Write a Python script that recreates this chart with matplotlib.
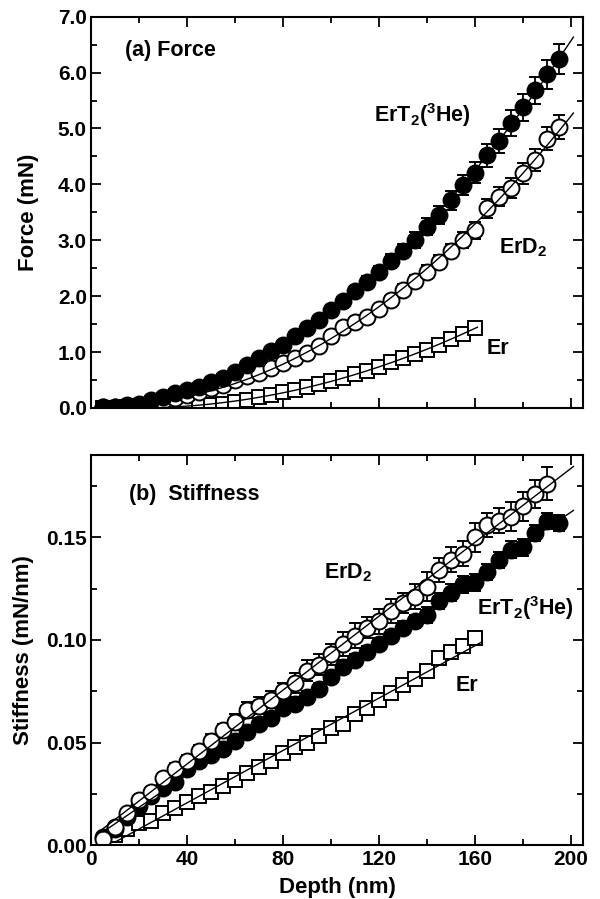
import numpy as np
import matplotlib
matplotlib.use('Agg')
import matplotlib.pyplot as plt
from matplotlib.ticker import MultipleLocator, FormatStrFormatter

plt.rcParams['font.family'] = ['Liberation Sans', 'DejaVu Sans']
plt.rcParams['font.weight'] = 'bold'
plt.rcParams['mathtext.fontset'] = 'custom'
plt.rcParams['mathtext.rm'] = 'Liberation Sans:bold'
plt.rcParams['mathtext.bf'] = 'Liberation Sans:bold'
plt.rcParams['mathtext.it'] = 'Liberation Sans:bold'
plt.rcParams['mathtext.default'] = 'regular'

# depth grids (nm)
depth_195 = [5, 10, 15, 20, 25, 30, 35, 40, 45, 50, 55, 60, 65, 70, 75, 80, 85, 90, 95, 100,
             105, 110, 115, 120, 125, 130, 135, 140, 145, 150, 155, 160, 165, 170, 175, 180,
             185, 190, 195]
depth_190 = depth_195[:-1]
depth_160 = depth_195[:32]
depth_160b = depth_195[1:32]

# (a) force (mN)
force_ert2 = [0.01, 0.02, 0.05, 0.08, 0.14, 0.20, 0.26, 0.32, 0.38, 0.46, 0.53, 0.65, 0.77,
              0.89, 1.02, 1.13, 1.28, 1.43, 1.57, 1.75, 1.92, 2.09, 2.26, 2.43, 2.63, 2.81,
              3.01, 3.24, 3.46, 3.72, 3.99, 4.21, 4.52, 4.78, 5.10, 5.38, 5.68, 5.97, 6.24]
force_ert2_err = [0, 0, 0, 0, 0.01, 0.01, 0.01, 0.01, 0.02, 0.02, 0.02, 0.03, 0.03, 0.04,
                  0.05, 0.05, 0.06, 0.06, 0.07, 0.08, 0.09, 0.09, 0.10, 0.11, 0.12, 0.13,
                  0.14, 0.15, 0.16, 0.17, 0.18, 0.19, 0.20, 0.21, 0.23, 0.24, 0.25, 0.26, 0.27]
force_erd2 = [0.01, 0.02, 0.04, 0.06, 0.09, 0.13, 0.18, 0.23, 0.29, 0.35, 0.41, 0.50, 0.58,
              0.63, 0.71, 0.80, 0.89, 0.98, 1.11, 1.28, 1.45, 1.54, 1.63, 1.77, 1.94, 2.11,
              2.28, 2.44, 2.62, 2.81, 3.00, 3.18, 3.57, 3.78, 3.93, 4.20, 4.44, 4.82, 5.03]
force_erd2_err = [0, 0, 0, 0, 0, 0.01, 0.01, 0.01, 0.01, 0.02, 0.02, 0.02, 0.03, 0.03, 0.03,
                  0.04, 0.04, 0.04, 0.05, 0.06, 0.07, 0.07, 0.07, 0.08, 0.09, 0.10, 0.10,
                  0.11, 0.12, 0.13, 0.14, 0.15, 0.17, 0.17, 0.18, 0.19, 0.20, 0.21, 0.22]
force_er = [0.00, 0.00, 0.01, 0.01, 0.01, 0.02, 0.02, 0.03, 0.04, 0.06, 0.08, 0.11, 0.15,
            0.19, 0.23, 0.28, 0.32, 0.37, 0.43, 0.49, 0.54, 0.60, 0.66, 0.74, 0.82, 0.89,
            0.96, 1.04, 1.13, 1.23, 1.33, 1.43]
force_er_err = [0.0] * 12 + [0.01] * 12 + [0.02] * 8

# (b) stiffness (mN/nm)
stiff_ert2 = [0.004, 0.008, 0.014, 0.019, 0.024, 0.028, 0.031, 0.037, 0.041, 0.044, 0.047,
              0.051, 0.055, 0.059, 0.062, 0.067, 0.069, 0.072, 0.076, 0.082, 0.087, 0.090,
              0.094, 0.098, 0.102, 0.106, 0.109, 0.112, 0.119, 0.123, 0.127, 0.128, 0.133,
              0.139, 0.144, 0.145, 0.152, 0.158, 0.157]
stiff_ert2_err = [0.001, 0.001, 0.001, 0.001, 0.002, 0.002, 0.002, 0.002, 0.002, 0.002,
                  0.002, 0.002, 0.002, 0.003, 0.003, 0.003, 0.003, 0.003, 0.003, 0.003,
                  0.003, 0.003, 0.003, 0.003, 0.003, 0.003, 0.003, 0.004, 0.004, 0.004,
                  0.004, 0.004, 0.004, 0.004, 0.004, 0.004, 0.004, 0.004, 0.004]
stiff_erd2 = [0.003, 0.009, 0.016, 0.022, 0.026, 0.033, 0.037, 0.041, 0.046, 0.051, 0.056,
              0.060, 0.066, 0.068, 0.071, 0.075, 0.079, 0.085, 0.088, 0.093, 0.098, 0.102,
              0.106, 0.109, 0.114, 0.118, 0.121, 0.126, 0.134, 0.139, 0.142, 0.150, 0.156,
              0.158, 0.160, 0.165, 0.171, 0.176]
stiff_erd2_err = [0.001, 0.001, 0.002, 0.002, 0.002, 0.002, 0.003, 0.003, 0.003, 0.003,
                  0.003, 0.004, 0.004, 0.004, 0.004, 0.004, 0.005, 0.005, 0.005, 0.005,
                  0.006, 0.006, 0.005, 0.006, 0.006, 0.005, 0.006, 0.007, 0.006, 0.006,
                  0.006, 0.007, 0.006, 0.006, 0.007, 0.007, 0.007, 0.008]
stiff_er = [0.005, 0.008, 0.011, 0.012, 0.016, 0.018, 0.021, 0.024, 0.026, 0.029, 0.032,
            0.035, 0.038, 0.041, 0.045, 0.048, 0.050, 0.053, 0.057, 0.059, 0.064, 0.067,
            0.071, 0.074, 0.078, 0.081, 0.085, 0.091, 0.094, 0.097, 0.101]
stiff_er_err = [0.001] * 16 + [0.002] * 15

W, H = 600, 899
fig = plt.figure(figsize=(W / 100, H / 100), dpi=100)
ax1 = fig.add_axes([91 / W, 1 - 408 / H, 492 / W, (408 - 16.7) / H])
ax2 = fig.add_axes([91 / W, 1 - 845.4 / H, 492 / W, (845.4 - 455) / H])

filled = dict(fmt='o', ms=11.5, mfc='black', mec='black', mew=1.4, color='black',
              elinewidth=1.3, capsize=4, capthick=1.3)
opened = dict(fmt='o', ms=11.5, mfc='white', mec='black', mew=1.4, color='black',
              elinewidth=1.3, capsize=4, capthick=1.3)
square = dict(fmt='s', ms=9.5, mfc='white', mec='black', mew=1.4, color='black',
              elinewidth=1.3, capsize=4, capthick=1.3)


def fit_line(ax, x, y, deg, xmax):
    p = np.polyfit(x, y, deg)
    xx = np.linspace(min(x), xmax, 200)
    ax.plot(xx, np.polyval(p, xx), color='black', lw=1.0, zorder=10)


fs_tick = 15
fs_lab = 16
fs_txt = 15.5

# (a) Force
ax1.errorbar(depth_160, force_er, yerr=force_er_err, **square)
ax1.errorbar(depth_195, force_erd2, yerr=force_erd2_err, **opened)
ax1.errorbar(depth_195, force_ert2, yerr=force_ert2_err, **filled)
fit_line(ax1, depth_195, force_ert2, 2, 201)
fit_line(ax1, depth_195, force_erd2, 2, 201)
fit_line(ax1, depth_160, force_er, 2, 161)

ax1.set_xlim(0, 205)
ax1.set_ylim(0, 7.0)
ax1.yaxis.set_major_locator(MultipleLocator(1.0))
ax1.yaxis.set_minor_locator(MultipleLocator(0.5))
ax1.yaxis.set_major_formatter(FormatStrFormatter('%.1f'))
ax1.set_ylabel('Force (mN)', fontsize=fs_lab, fontweight='bold')
ax1.text(14, 6.40, '(a) Force', fontsize=fs_txt, fontweight='bold', va='center')
ax1.text(118, 5.24, r'ErT$_2$($^3$He)', fontsize=fs_txt, fontweight='bold', va='center')
ax1.text(170, 2.86, r'ErD$_2$', fontsize=fs_txt, fontweight='bold', va='center')
ax1.text(165, 1.07, 'Er', fontsize=fs_txt, fontweight='bold', va='center')

# (b) Stiffness
ax2.errorbar(depth_160b, stiff_er, yerr=stiff_er_err, **square)
ax2.errorbar(depth_195, stiff_ert2, yerr=stiff_ert2_err, **filled)
ax2.errorbar(depth_190, stiff_erd2, yerr=stiff_erd2_err, **opened)
fit_line(ax2, depth_195, stiff_ert2, 1, 201)
fit_line(ax2, depth_190, stiff_erd2, 1, 201)
fit_line(ax2, depth_160b, stiff_er, 1, 163)

ax2.set_xlim(0, 205)
ax2.set_ylim(0, 0.19)
ax2.yaxis.set_major_locator(MultipleLocator(0.05))
ax2.yaxis.set_minor_locator(MultipleLocator(0.025))
ax2.yaxis.set_major_formatter(FormatStrFormatter('%.2f'))
ax2.set_xlabel('Depth (nm)', fontsize=fs_lab, fontweight='bold', labelpad=6)
ax2.set_ylabel('Stiffness (mN/nm)', fontsize=fs_lab, fontweight='bold')
ax2.text(16, 0.171, '(b)  Stiffness', fontsize=fs_txt, fontweight='bold', va='center')
ax2.text(97, 0.1325, r'ErD$_2$', fontsize=fs_txt, fontweight='bold', va='center')
ax2.text(161, 0.1154, r'ErT$_2$($^3$He)', fontsize=fs_txt, fontweight='bold', va='center')
ax2.text(152, 0.078, 'Er', fontsize=fs_txt, fontweight='bold', va='center')

for ax in (ax1, ax2):
    ax.xaxis.set_major_locator(MultipleLocator(40))
    ax.xaxis.set_minor_locator(MultipleLocator(20))
    ax.tick_params(which='both', direction='in', top=True, right=True, width=1.3,
                   labelsize=fs_tick, pad=3)
    ax.tick_params(which='major', length=7)
    ax.tick_params(which='minor', length=4)
    for s in ax.spines.values():
        s.set_linewidth(1.5)
    for lab in ax.get_xticklabels() + ax.get_yticklabels():
        lab.set_fontweight('bold')

ax1.yaxis.set_label_coords(-0.105, 0.5)
ax2.yaxis.set_label_coords(-0.115, 0.5)
ax1.tick_params(labelbottom=False)

fig.savefig('out.png', dpi=100)
